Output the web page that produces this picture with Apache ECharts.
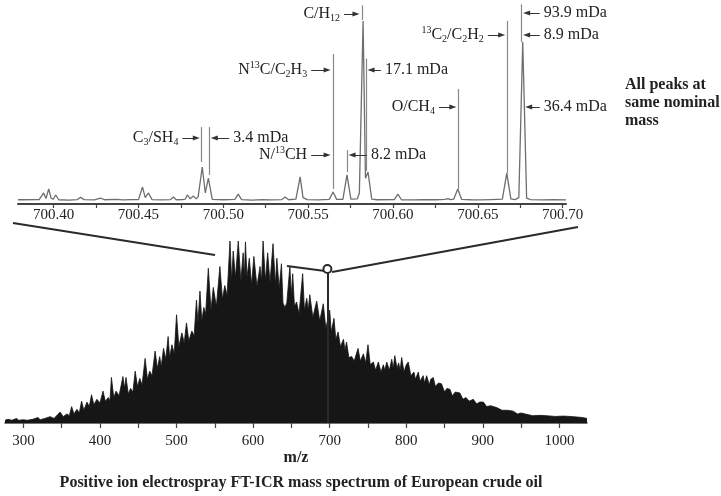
<!DOCTYPE html>
<html><head><meta charset="utf-8">
<script src="https://cdn.jsdelivr.net/npm/echarts@6/dist/echarts.min.js"></script>
<style>html,body{margin:0;padding:0;background:#fff}#c{width:721px;height:496px}</style>
</head><body><div id="c"></div>
<script>
// ---- inset axis ticks / labels (m/z) ----
const insetLabelValues = [700.40, 700.45, 700.50, 700.55, 700.60, 700.65, 700.70];
const insetTickValues = [700.40, 700.425, 700.45, 700.475, 700.50, 700.525, 700.55, 700.575, 700.60, 700.625, 700.65, 700.675, 700.70];
// ---- main axis ticks / labels ----
const mainLabelValues = [300, 400, 500, 600, 700, 800, 900, 1000];
const mainTickValues = [300, 350, 400, 450, 500, 550, 600, 650, 700, 750, 800, 850, 900, 950, 1000];

// ---- inset profile spectrum [m/z, relative intensity] ----
const insetProfile = [
  [700.379,2.3],
  [700.3915,2.4],[700.3941,6.0],[700.3955,3.0],[700.3971,8.2],[700.3985,3.2],[700.3998,2.6],[700.4012,4.9],[700.4030,2.3],
  [700.409,2.1],[700.4140,2.4],[700.4159,3.6],[700.4180,2.4],[700.424,2.2],[700.4276,3.2],[700.430,2.3],[700.437,2.5],[700.441,2.2],[700.446,2.4],
  [700.4500,2.4],[700.4524,9.2],[700.4540,3.5],[700.4559,6.0],[700.4580,2.4],[700.464,2.2],
  [700.4690,2.4],[700.4706,3.8],[700.4722,2.3],[700.476,2.4],[700.4775,2.6],[700.4788,4.9],[700.4805,2.8],[700.4824,4.3],[700.4840,2.8],[700.4852,4.0],[700.4876,20.1],[700.4894,6.0],[700.4912,14.1],[700.4935,2.5],
  [700.500,2.3],[700.5068,2.5],[700.5088,5.4],[700.5108,2.4],[700.517,2.1],[700.523,2.4],[700.528,2.2],[700.5345,2.4],[700.5365,3.8],[700.5385,2.3],
  [700.5428,2.6],[700.5453,14.7],[700.5470,3.5],[700.5480,2.8],[700.5495,2.4],[700.556,2.2],[700.5625,2.5],[700.5647,6.5],[700.5668,2.5],
  [700.5705,2.5],[700.5729,15.8],[700.5752,2.6],[700.5790,2.8],[700.5802,6.0],[700.5824,99.5],[700.5838,14.0],[700.5853,17.4],[700.5875,2.6],[700.5905,2.3],
  [700.6008,2.4],[700.6029,5.4],[700.6050,2.3],[700.612,2.2],[700.618,2.4],[700.625,2.3],[700.6305,2.5],[700.6325,2.9],[700.634,2.4],[700.6358,2.6],[700.6382,8.2],[700.6405,2.5],[700.646,2.3],[700.652,2.2],[700.658,2.4],
  [700.6645,2.6],[700.6671,16.8],[700.6695,2.8],[700.6720,2.4],[700.6742,3.5],[700.6765,88.0],[700.6788,3.2],[700.681,2.4],[700.688,2.2],[700.695,2.3],[700.702,2.2]
];

// ---- broadband spectrum [m/z, relative intensity] ----
const mainSpectrum = [
  [276,1.5],[280,2],[282.5,3],[285,1.5],[291,2.5],[294,1.5],[300,1.8],[305,1.5],[312,2],[319,3],[322,1.8],[328,2.5],[335,3.5],[340,2.5],
  [348,6],[352,3.5],[357,5],[360,4],[363,9],[366,5],[370,7.5],[373,5.5],[376,12],[379,7],[383,11.5],[386,9],[389,15.5],[392,10],[396,13],[400,11],
  [404,17.5],[407,12],[411,14],[413,12],[415,25],[418,14],[421,17.5],[425,15],[430,25.5],[432,19],[434,25],[437,16],[440,19],[443,17],[446,28.5],[449,20],
  [452,24.5],[455,21],[459,35.5],[462,24],[465,28.5],[468,26],[472,39.5],[475,30],[478,36.5],[480,31],[483,41],[486,35],[489,47.5],[491,36],[494,43],[497,38],
  [500,59.5],[503,42],[507,49.5],[510,44],[513,55],[516,45],[520,50.5],[523,48],[526,67.5],[528,55],[530.6,72.5],[533,56],[535.6,63.5],[538,60],
  [541.5,85],[545,62],[548,74.5],[552,64],[556.6,86],[560,68],[563,75.5],[566,70],[569.8,100],[572,78],[574,94.5],[577,80],[580.6,100],[584,78],
  [587,93.5],[588.5,80],[590,99.5],[592,80],[595,90.5],[598,76],[601,91.5],[605,75],[609,86],[611,78],[613,100],[616,78],[619,93.5],[622,77],
  [626,98.5],[629,76],[631,90.5],[634,74],[637,87.5],[639,66],[641.6,63.5],[644,66],[648,86],[650,70],[651.7,82],[654,64],[656.7,66.5],[660,60],
  [664.7,82],[667,62],[670,68.5],[672,62],[674,70.5],[678,58],[683,67],[687,56],[691.6,65.5],[695,52],[700,62],[702,50],[705.6,57.5],[708,46],
  [711,50],[714,42],[718,46],[720,40],[722,44.5],[725,36],[728.7,36.5],[732,34],[737,41],[740,34],[744,38],[747,33],[750,43],[753,32],
  [757,33.5],[760,29],[763.5,33.5],[767,28],[770,32],[772,29],[774.5,33.5],[778,29],[781,35],[783,30],[785,37],[788,30],[790,33],[792,29],
  [794,36],[797,28],[800,32],[802.6,33.5],[806,26],[810,28],[812,24],[815.7,28],[818,23],[822,26],[824,22],[826.6,26],[830,21],[832,24],
  [835.3,25],[838,20],[842,22],[846,21.5],[850,17],[853,19],[857,18.5],[860,15],[864,17],[870,16.5],[874,13],[878,14],[882,12],[887.5,13],
  [892,10.5],[896,11.5],[900.6,11.5],[905,9],[910,9.5],[918,8.5],[925,7],[932,7],[939.8,6.5],[945,5],[950,5.5],[957,4.8],[965,4],[975,4.2],
  [983,4],[995,3.6],[1005,3.8],[1018,3.5],[1030,3],[1036,2.5]
];

// ---- inset peak marker lines [m/z, bottom, top] ----
const peakMarkers = [
  [700.4871, 22.8, 41.8],
  [700.4918, 15.8, 41.8],
  [700.5647, 8.2, 81.5],
  [700.5729, 17.4, 29.3],
  [700.5818, 100, 108],
  [700.5841, 18, 79],
  [700.6382, 8.2, 62.5],
  [700.6671, 16.8, 99.5],
  [700.6759, 88, 108.5]
];

// ---- annotation arrows [m/z tail, m/z head, intensity level, label] ----
const arrowNotes = [
  [700.4759, 700.4841, 35.9, 'C{sub|3}/SH{sub|4}'],
  [700.5035, 700.4947, 35.9, '3.4 mDa'],
  [700.5518, 700.5612, 72.8, 'N{sup|13}C/C{sub|2}H{sub|3}'],
  [700.5518, 700.5612, 26.6, 'N/{sup|13}CH'],
  [700.5847, 700.5759, 26.6, '8.2 mDa'],
  [700.5712, 700.5782, 103.3, 'C/H{sub|12}'],
  [700.5929, 700.5871, 72.8, '17.1 mDa'],
  [700.6271, 700.6353, 52.7, 'O/CH{sub|4}'],
  [700.6559, 700.6641, 91.8, '{sup|13}C{sub|2}/C{sub|2}H{sub|2}'],
  [700.6865, 700.6788, 103.8, '93.9 mDa'],
  [700.6865, 700.6788, 91.8, '8.9 mDa'],
  [700.6865, 700.6800, 52.7, '36.4 mDa']
];

// ---- zoom connector lines in broadband coordinates [[m/z, I], [m/z, I]] ----
const zoomConnectors = [
  [[286.4, 109.9], [550.2, 92.3]],
  [[1024.2, 107.7], [703.0, 83.0]],
  [[644.2, 86.3], [693.9, 83.5]]
];
const zoomedPeak = [697, 84.6];

const FONT = 'Liberation Serif';
const TXT = '#222';
const rich = {
  sub: {fontSize: 10, fontFamily: FONT, color: TXT, verticalAlign: 'bottom', lineHeight: 10},
  sup: {fontSize: 10, fontFamily: FONT, color: TXT, verticalAlign: 'top', lineHeight: 10}
};

const markerLineData = peakMarkers.map(m => [
  {coord: [m[0], m[1]]},
  {coord: [m[0], m[2]]}
]);
const arrowLineData = arrowNotes.map(a => [
  {coord: [a[0], a[2]], label: {show: true, position: 'start', distance: 4, formatter: a[3],
    fontFamily: FONT, fontSize: 16, color: TXT, lineHeight: 19, rich: rich}},
  {coord: [a[1], a[2]]}
]);
const connectorData = zoomConnectors.map(c => [{coord: c[0]}, {coord: c[1]}]);
connectorData.push([
  {coord: zoomedPeak, symbol: 'emptyCircle', symbolSize: 8},
  {coord: [zoomedPeak[0], 0], symbol: 'none'}
]);

const chart = echarts.init(document.getElementById('c'));
chart.setOption({
  animation: false,
  backgroundColor: '#fff',
  grid: [
    {left: 18, right: 155, top: 1.6, bottom: 292},
    {left: 5, right: 134, top: 213.7, bottom: 69}
  ],
  xAxis: [
    {
      type: 'value', gridIndex: 0, min: 700.379, max: 700.702,
      axisLine: {lineStyle: {color: '#444', width: 2}},
      axisTick: {show: true, length: 4, customValues: insetTickValues, lineStyle: {color: '#444', width: 1.2}},
      axisLabel: {customValues: insetLabelValues, formatter: v => v.toFixed(2), margin: 4,
        fontFamily: FONT, fontSize: 15, color: TXT},
      splitLine: {show: false}
    },
    {
      type: 'value', gridIndex: 1, min: 276, max: 1036,
      axisLine: {lineStyle: {color: '#444', width: 1.5}},
      axisTick: {show: true, length: 5, customValues: mainTickValues, lineStyle: {color: '#444', width: 1.2}},
      axisLabel: {customValues: mainLabelValues, formatter: v => String(v), margin: 7,
        fontFamily: FONT, fontSize: 15, color: TXT},
      splitLine: {show: false},
      name: 'm/z', nameLocation: 'middle', nameGap: 20,
      nameTextStyle: {fontFamily: FONT, fontSize: 16, fontWeight: 'bold', color: TXT}
    }
  ],
  yAxis: [
    {type: 'value', gridIndex: 0, min: 0, max: 110, show: false},
    {type: 'value', gridIndex: 1, min: -2.2, max: 115, show: false}
  ],
  series: [
    {
      type: 'line', xAxisIndex: 0, yAxisIndex: 0, data: insetProfile, showSymbol: false,
      lineStyle: {color: '#6e6e6e', width: 1.3}, clip: false, silent: true,
      markLine: {silent: true, symbol: ['none', 'none'], animation: false,
        lineStyle: {color: '#888', width: 1.2, type: 'solid'}, label: {show: false},
        data: markerLineData}
    },
    {
      type: 'line', xAxisIndex: 0, yAxisIndex: 0, data: [[700.38, 0]], showSymbol: false,
      lineStyle: {opacity: 0}, silent: true, clip: false,
      markLine: {silent: true, symbol: ['none', 'triangle'], symbolSize: [5, 7], animation: false,
        lineStyle: {color: '#333', width: 1, type: 'solid'},
        data: arrowLineData}
    },
    {
      type: 'line', xAxisIndex: 1, yAxisIndex: 1, data: mainSpectrum, showSymbol: false,
      lineStyle: {color: '#151515', width: 0.8}, areaStyle: {color: '#161616', opacity: 1},
      clip: false, silent: true,
      markLine: {silent: true, symbol: ['none', 'none'], animation: false,
        lineStyle: {color: '#2a2a2a', width: 2, type: 'solid'}, label: {show: false},
        itemStyle: {color: '#2a2a2a', borderColor: '#2a2a2a', borderWidth: 2},
        data: connectorData}
    }
  ],
  graphic: [
    {type: 'text', x: 625, y: 76, style: {text: 'All peaks at\nsame nominal\nmass',
      font: 'bold 16px "Liberation Serif"', lineHeight: 18, fill: TXT, textVerticalAlign: 'top'}},
    {type: 'text', x: 301, y: 483, style: {text: 'Positive ion electrospray FT-ICR mass spectrum of European crude oil',
      font: 'bold 16px "Liberation Serif"', fill: TXT, textAlign: 'center', textVerticalAlign: 'middle'}}
  ]
});
</script></body></html>
